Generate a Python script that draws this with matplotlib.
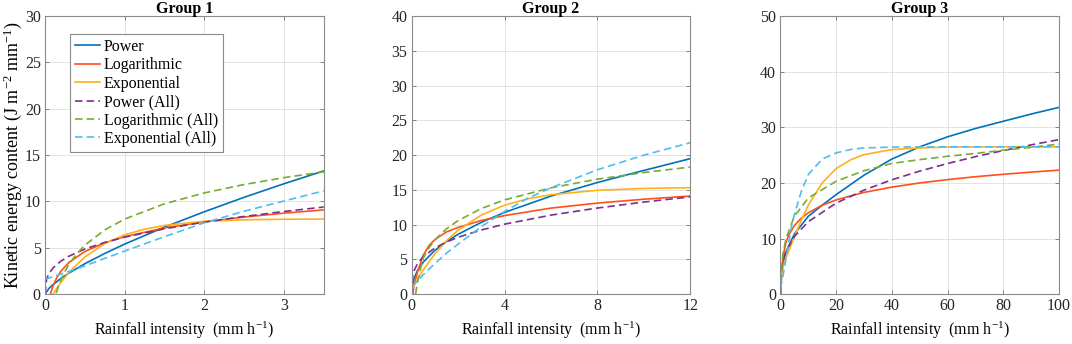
import matplotlib.pyplot as plt

plt.rcParams['font.family'] = ['Liberation Serif', 'DejaVu Serif']
plt.rcParams['mathtext.fontset'] = 'custom'
plt.rcParams['mathtext.rm'] = 'Liberation Serif'
plt.rcParams['mathtext.it'] = 'Liberation Serif:italic'

labels = ['Power', 'Logarithmic', 'Exponential',
          'Power (All)', 'Logarithmic (All)', 'Exponential (All)']
colors = ['#0072BD', '#FF5019', '#FFB11B', '#7E2F8E', '#77AC30', '#4DBEEE']
styles = ['-', '-', '-', '--', '--', '--']

# ---- Group 1 ----
g1_pow_x = [0, 0.05, 0.1, 0.2, 0.3, 0.5, 0.75, 1, 1.5, 2, 2.5, 3, 3.5]
g1_pow_y = [0, 0.62, 1.03, 1.69, 2.27, 3.28, 4.39, 5.4, 7.23, 8.89, 10.45, 11.91, 13.3]
g1_log_x = [0.07, 0.1, 0.15, 0.2, 0.3, 0.5, 0.75, 1, 1.5, 2, 2.5, 3, 3.5]
g1_log_y = [0.06, 0.88, 1.82, 2.48, 3.42, 4.6, 5.54, 6.2, 7.14, 7.8, 8.32, 8.74, 9.09]
g1_exp_x = [0.1, 0.15, 0.2, 0.3, 0.5, 0.75, 1, 1.25, 1.5, 2, 2.5, 3, 3.5]
g1_exp_y = [0, 0.66, 1.27, 2.34, 4.01, 5.45, 6.4, 7.01, 7.42, 7.86, 8.02, 8.08, 8.1]
g1_powall_x = [0, 0.02, 0.05, 0.1, 0.2, 0.3, 0.5, 0.75, 1, 1.5, 2, 2.5, 3, 3.5]
g1_powall_y = [0, 1.64, 2.23, 2.82, 3.57, 4.09, 4.87, 5.58, 6.15, 7.05, 7.77, 8.38, 8.92, 9.4]
g1_logall_x = [0.14, 0.17, 0.2, 0.25, 0.3, 0.4, 0.5, 0.75, 1, 1.5, 2, 2.5, 3, 3.5]
g1_logall_y = [0.1, 0.89, 1.55, 2.46, 3.2, 4.37, 5.28, 6.93, 8.1, 9.75, 10.92, 11.83, 12.57, 13.2]
g1_expall_x = [0, 0.25, 0.5, 0.75, 1, 1.5, 2, 2.5, 3, 3.5]
g1_expall_y = [1.6, 2.3, 3.05, 3.85, 4.65, 6.2, 7.7, 8.95, 10.05, 11.15]

# ---- Group 2 ----
g2_pow_x = [0, 0.02, 0.1, 0.25, 0.5, 1, 1.5, 2, 3, 4, 6, 8, 10, 12]
g2_pow_y = [0, 1.08, 2.24, 3.38, 4.61, 6.3, 7.56, 8.61, 10.33, 11.76, 14.11, 16.06, 17.8, 19.5]
g2_log_x = [0.05, 0.1, 0.25, 0.5, 0.75, 1, 1.5, 2, 3, 4, 6, 8, 10, 12]
g2_log_y = [0, 1.2, 3.2, 5.6, 7.0, 7.85, 8.95, 9.6, 10.6, 11.3, 12.38, 13.1, 13.66, 14.11]
g2_exp_x = [0, 0.25, 0.5, 1, 1.5, 2, 3, 4, 5, 6, 8, 10, 12]
g2_exp_y = [0.6, 2.12, 3.49, 5.81, 7.69, 9.2, 11.38, 12.8, 13.72, 14.31, 14.94, 15.21, 15.32]
g2_powall_x = [0, 0.02, 0.05, 0.1, 0.25, 0.5, 1, 1.5, 2, 3, 4, 6, 8, 10, 12]
g2_powall_y = [0, 2.05, 2.7, 3.33, 4.38, 5.39, 6.64, 7.5, 8.18, 9.23, 10.07, 11.37, 12.39, 13.25, 14.0]
g2_logall_x = [0.17, 0.2, 0.25, 0.3, 0.4, 0.5, 0.75, 1, 1.5, 2, 3, 4, 6, 8, 10, 12]
g2_logall_y = [0, 0.68, 1.64, 2.5, 3.9, 5.2, 6.7, 7.8, 9.4, 10.58, 12.32, 13.56, 15.3, 16.54, 17.5, 18.29]
g2_expall_x = [0, 0.5, 1, 1.5, 2, 3, 4, 5, 6, 8, 10, 12]
g2_expall_y = [1.0, 2.8, 4.4, 5.9, 7.2, 9.7, 11.9, 13.8, 15.3, 17.9, 20.0, 21.8]

# ---- Group 3 ----
g3_pow_x = [0, 0.2, 0.5, 1, 2, 5, 10, 15, 20, 30, 40, 50, 60, 70, 80, 90, 100]
g3_pow_y = [0, 3.2, 4.5, 5.8, 7.6, 10.8, 14.0, 16.0, 17.9, 21.4, 24.3, 26.5, 28.3, 29.8, 31.1, 32.4, 33.6]
g3_log_x = [0.13, 0.2, 0.5, 1, 2, 3, 5, 7.5, 10, 15, 20, 30, 40, 50, 60, 70, 80, 90, 100]
g3_log_y = [0, 1.61, 4.66, 6.97, 9.28, 10.63, 12.33, 13.68, 14.64, 15.99, 16.95, 18.3, 19.25,
            20.0, 20.6, 21.12, 21.56, 21.95, 22.3]
g3_exp_x = [0, 0.5, 1, 2, 3, 5, 7.5, 10, 15, 20, 25, 30, 40, 50, 60, 80, 100]
g3_exp_y = [0.5, 3.5, 5.0, 6.5, 7.8, 10.2, 13.3, 16.0, 20.0, 22.6, 24.1, 25.1, 26.0, 26.3, 26.45, 26.5, 26.5]
g3_powall_x = [0, 0.1, 0.5, 1, 2, 5, 10, 20, 30, 40, 50, 60, 70, 80, 90, 100]
g3_powall_y = [0, 2.86, 4.86, 6.11, 7.68, 10.37, 13.03, 16.37, 18.71, 20.57, 22.13, 23.5, 24.73,
               25.83, 26.85, 27.8]
g3_logall_x = [0.1, 0.2, 0.5, 1, 2, 5, 10, 20, 30, 40, 50, 60, 70, 80, 90, 100]
g3_logall_y = [0, 1.5, 5.0, 7.5, 10.0, 14.0, 17.3, 20.3, 22.2, 23.5, 24.2, 24.8, 25.3, 25.9, 26.4, 27.0]
g3_expall_x = [0, 1, 2, 3, 4, 5, 7.5, 10, 15, 20, 25, 30, 40, 60, 100]
g3_expall_y = [1.0, 3.5, 6.3, 9.3, 12.3, 14.3, 18.5, 21.5, 24.3, 25.4, 26.0, 26.3, 26.45, 26.5, 26.5]

groups = [
    ('Group 1', 3.5, 30, [0, 1, 2, 3], list(range(0, 31, 5)),
     [(g1_pow_x, g1_pow_y), (g1_log_x, g1_log_y), (g1_exp_x, g1_exp_y),
      (g1_powall_x, g1_powall_y), (g1_logall_x, g1_logall_y), (g1_expall_x, g1_expall_y)]),
    ('Group 2', 12, 40, [0, 4, 8, 12], list(range(0, 41, 5)),
     [(g2_pow_x, g2_pow_y), (g2_log_x, g2_log_y), (g2_exp_x, g2_exp_y),
      (g2_powall_x, g2_powall_y), (g2_logall_x, g2_logall_y), (g2_expall_x, g2_expall_y)]),
    ('Group 3', 100, 50, list(range(0, 101, 20)), list(range(0, 51, 10)),
     [(g3_pow_x, g3_pow_y), (g3_log_x, g3_log_y), (g3_exp_x, g3_exp_y),
      (g3_powall_x, g3_powall_y), (g3_logall_x, g3_logall_y), (g3_expall_x, g3_expall_y)]),
]

fig = plt.figure(figsize=(10.72, 3.44), dpi=100)
lefts = [0.042, 0.384, 0.728]

for i, (title, xmax, ymax, xt, yt, curves) in enumerate(groups):
    ax = fig.add_axes([lefts[i], 0.145, 0.26, 0.808])
    for (x, y), lab, c, ls in zip(curves, labels, colors, styles):
        if ls == '--':
            ax.plot(x, y, color=c, lw=1.2, label=lab, ls=(0, (4.5, 2.5)))
        else:
            ax.plot(x, y, color=c, lw=1.2, label=lab)
    ax.set_xlim(0, xmax)
    ax.set_ylim(0, ymax)
    ax.set_xticks(xt)
    ax.set_yticks(yt)
    ax.grid(True, color='#e3e3e3', lw=0.7)
    ax.set_axisbelow(True)
    ax.tick_params(direction='in', top=True, right=True, length=3, width=0.7,
                   color='#808080', labelsize=11.5, labelcolor='#262626', pad=3)
    for s in ax.spines.values():
        s.set_color('#8a8a8a')
        s.set_linewidth(0.8)
    ax.set_title(title, fontsize=11.5, fontweight='bold', pad=2)
    ax.set_xlabel('Rainfall intensity  (mm h$^{-1}$)', fontsize=11.5, labelpad=4)
    if i == 0:
        ax.set_ylabel('Kinetic energy content (J m$^{-2}$ mm$^{-1}$)', fontsize=13, labelpad=0.5)
        leg = ax.legend(loc='upper left', bbox_to_anchor=(0.09, 0.935), borderaxespad=0,
                        fontsize=11.5, fancybox=False, framealpha=1, edgecolor='#8a8a8a',
                        handlelength=1.6, handletextpad=0.2, labelspacing=0.15, borderpad=0.3)
        leg.get_frame().set_linewidth(0.8)

fig.savefig('out.png', dpi=100)
